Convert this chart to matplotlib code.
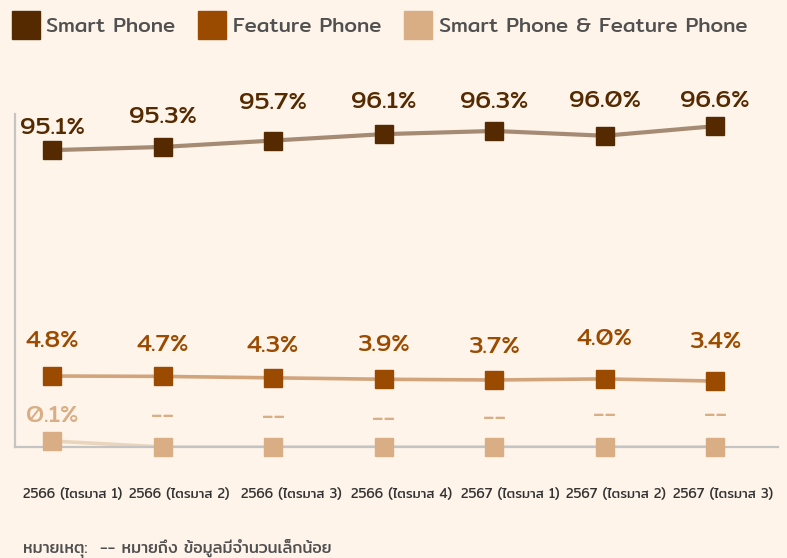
import matplotlib
matplotlib.use("Agg")
import matplotlib.pyplot as plt
from matplotlib.lines import Line2D
from matplotlib.transforms import ScaledTranslation

# data
quarters = ["2566 (ไตรมาส 1)", "2566 (ไตรมาส 2)", "2566 (ไตรมาส 3)", "2566 (ไตรมาส 4)",
            "2567 (ไตรมาส 1)", "2567 (ไตรมาส 2)", "2567 (ไตรมาส 3)"]
smart = [95.1, 95.3, 95.7, 96.1, 96.3, 96.0, 96.6]
feature = [4.8, 4.7, 4.3, 3.9, 3.7, 4.0, 3.4]
both = [0.1, 0.0, 0.0, 0.0, 0.0, 0.0, 0.0]
both_labels = ["0.1%", "--", "--", "--", "--", "--", "--"]
series_names = ["Smart Phone", "Feature Phone", "Smart Phone & Feature Phone"]

# label vertical offsets (pixels above the marker)
smart_off = [22, 30, 37, 32, 29, 35, 25]
feature_off = [35, 31, 32, 34, 33, 40, 39]
both_off = [25, 30, 29, 27, 28, 31, 31]
# horizontal shift of the tick labels (pixels)
tick_shift = [21, 17, 18, 18, 16, 11, 8]

bg = "#fef4ea"
c_smart, c_feat, c_both = "#552a00", "#9b4b00", "#d9ae84"
plt.rcParams["font.family"] = ["Mitr", "DejaVu Sans"]

fig = plt.figure(figsize=(7.87, 5.58), dpi=100, facecolor=bg)
ax = fig.add_axes([15 / 787, 111 / 558, 763 / 787, 333 / 558])
ax.set_facecolor(bg)
ax_f = ax.twinx()
ax_s = ax.twinx()

x = list(range(len(quarters)))
for a in (ax, ax_f, ax_s):
    a.set_xlim(-0.335, 6.57)
for a in (ax_f, ax_s):
    a.patch.set_visible(False)
    a.set_yticks([])
    for sp in a.spines.values():
        sp.set_visible(False)

ax.set_ylim(0, 5.55)
ax_f.set_ylim(-14.92, 77.6)
ax_s.set_ylim(76.54, 97.36)

ax_s.plot(x, smart, color="#a68b74", lw=3, zorder=2)
ax_s.plot(x, smart, "s", color=c_smart, ms=12.5, zorder=3)
ax_f.plot(x, feature, color="#d2a47c", lw=2.6, zorder=2)
ax_f.plot(x, feature, "s", color=c_feat, ms=12.5, zorder=3)
ax.plot(x, both, color="#e6cdb2", lw=2.6, alpha=0.8, zorder=2)
ax.plot(x, both, "s", color=c_both, ms=12.5, zorder=3, clip_on=False)

lab_kw = dict(textcoords="offset points", ha="center", va="center",
              fontsize=17.5, fontweight="normal")
for i in x:
    ax_s.annotate(f"{smart[i]:.1f}%", (i, smart[i]), xytext=(0, smart_off[i] * 0.72),
                  color=c_smart, **lab_kw)
    ax_f.annotate(f"{feature[i]:.1f}%", (i, feature[i]), xytext=(0, feature_off[i] * 0.72),
                  color=c_feat, **lab_kw)
    ax.annotate(both_labels[i], (i, both[i]), xytext=(0, both_off[i] * 0.72),
                color=c_both, **lab_kw)

for sp in ("top", "right"):
    ax.spines[sp].set_visible(False)
for sp in ("left", "bottom"):
    ax.spines[sp].set_color("#c4c4c4")
    ax.spines[sp].set_linewidth(1.6)
ax.set_yticks([])
ax.set_xticks(x)
ax.set_xticklabels(quarters, fontsize=9.4, color="#333333", fontweight="normal")
ax.tick_params(axis="x", length=0, pad=29)
for lab, dx in zip(ax.get_xticklabels(), tick_shift):
    lab.set_transform(lab.get_transform() + ScaledTranslation(dx / 100, 0, fig.dpi_scale_trans))

handles = [Line2D([], [], ls="none", marker="s", ms=20, color=c) for c in (c_smart, c_feat, c_both)]
fig.legend(handles, series_names, loc="center left", bbox_to_anchor=(0.0, 0.952),
           ncol=3, frameon=False, labelcolor="#505050",
           prop={"weight": "normal", "size": 14.8},
           handlelength=1.3, handletextpad=0.35, columnspacing=1.15, borderaxespad=0.2)

fig.text(23 / 787, 1 - 549 / 558, "หมายเหตุ:  -- หมายถึง ข้อมูลมีจำนวนเล็กน้อย",
         fontsize=11.6, color="#505050", va="center", fontweight="normal")

fig.savefig("out.png", dpi=100, facecolor=bg)
